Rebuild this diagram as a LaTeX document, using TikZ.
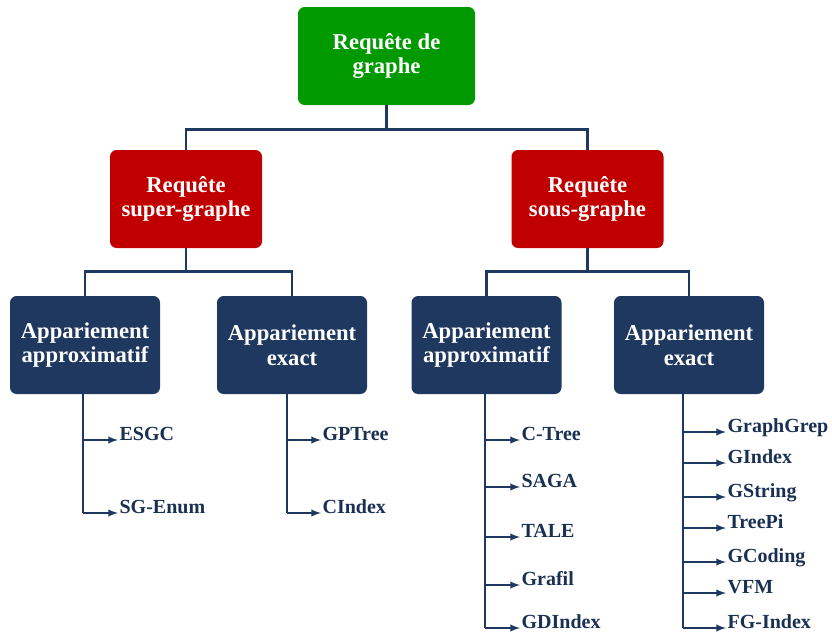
\documentclass[tikz,border=0pt]{standalone}
\usepackage{fontspec}
\setmainfont{Liberation Serif}
\usetikzlibrary{arrows}

\definecolor{navy}{RGB}{31,56,96}
\definecolor{vert}{RGB}{0,153,0}
\definecolor{rouge}{RGB}{192,0,0}

\tikzset{
  boite/.style={rectangle, rounded corners=5pt, text=white, align=center,
    font=\bfseries\fontsize{17}{18.5}\selectfont, inner sep=0pt,
    minimum width=112.5pt, minimum height=73.5pt},
  feuille/.style={anchor=base west, inner sep=1pt, text=navy!85!black,
    font=\bfseries\fontsize{15}{17}\selectfont},
  lien/.style={draw=navy, line width=2.2pt},
  fleche/.style={draw=navy, line width=1.5pt, -latex},
}

\begin{document}
\begin{tikzpicture}[x=0.75pt,y=-0.75pt]
\useasboundingbox (0,0) rectangle (832,637);

% niveau 1
\node[boite, fill=vert, minimum width=132.75pt] (top) at (386.5,56) {Requête de\\graphe};

% niveau 2
\node[boite, fill=rouge, minimum width=114pt] (sup) at (186,199) {Requête\\super-graphe};
\node[boite, fill=rouge, minimum width=114pt] (sous) at (587.5,199) {Requête\\sous-graphe};

% niveau 3
\node[boite, fill=navy] (supApprox) at (85,345) {Appariement\\approximatif};
\node[boite, fill=navy] (supExact) at (292,345) {Appariement\\exact};
\node[boite, fill=navy] (sousApprox) at (486.5,345) {Appariement\\approximatif};
\node[boite, fill=navy] (sousExact) at (689,345) {Appariement\\exact};

\draw[lien] (top.south) -- ++(0,24) -| (sup.north);
\draw[lien] (top.south) -- ++(0,24) -| (sous.north);
\draw[lien] (sup.south) -- ++(0,23) -| (supApprox.north);
\draw[lien] (sup.south) -- ++(0,23) -| (supExact.north);
\draw[lien] (sous.south) -- ++(0,23) -| (sousApprox.north);
\draw[lien] (sous.south) -- ++(0,23) -| (sousExact.north);

% feuilles
\coordinate (lA) at (83,393);
\coordinate (lB) at (287,393);
\coordinate (lC) at (485,393);
\coordinate (lD) at (683,393);

\node[feuille] (esgc) at (118,440) {ESGC};
\node[feuille] (sgenum) at (118,513) {SG-Enum};

\node[feuille] (gptree) at (321,440) {GPTree};
\node[feuille] (cindex) at (321,513) {CIndex};

\node[feuille] (ctree) at (520,440) {C-Tree};
\node[feuille] (saga) at (520,487) {SAGA};
\node[feuille] (tale) at (520,537) {TALE};
\node[feuille] (grafil) at (520,585) {Grafil};
\node[feuille] (gdindex) at (520,628) {GDIndex};

\node[feuille] (graphgrep) at (726,432) {GraphGrep};
\node[feuille] (gindex) at (726,463) {GIndex};
\node[feuille] (gstring) at (726,497) {GString};
\node[feuille] (treepi) at (726,528) {TreePi};
\node[feuille] (gcoding) at (726,562) {GCoding};
\node[feuille] (vfm) at (726,593) {VFM};
\node[feuille] (fgindex) at (726,628) {FG-Index};

\draw[lien] (lA) -- (lA |- sgenum.base west);
\draw[lien] (lB) -- (lB |- cindex.base west);
\draw[lien] (lC) -- (lC |- gdindex.base west);
\draw[lien] (lD) -- (lD |- fgindex.base west);

\draw[fleche] (lA |- esgc.base west) -- (esgc.base west);
\draw[fleche] (lA |- sgenum.base west) -- (sgenum.base west);
\draw[fleche] (lB |- gptree.base west) -- (gptree.base west);
\draw[fleche] (lB |- cindex.base west) -- (cindex.base west);
\draw[fleche] (lC |- ctree.base west) -- (ctree.base west);
\draw[fleche] (lC |- saga.base west) -- (saga.base west);
\draw[fleche] (lC |- tale.base west) -- (tale.base west);
\draw[fleche] (lC |- grafil.base west) -- (grafil.base west);
\draw[fleche] (lC |- gdindex.base west) -- (gdindex.base west);
\draw[fleche] (lD |- graphgrep.base west) -- (graphgrep.base west);
\draw[fleche] (lD |- gindex.base west) -- (gindex.base west);
\draw[fleche] (lD |- gstring.base west) -- (gstring.base west);
\draw[fleche] (lD |- treepi.base west) -- (treepi.base west);
\draw[fleche] (lD |- gcoding.base west) -- (gcoding.base west);
\draw[fleche] (lD |- vfm.base west) -- (vfm.base west);
\draw[fleche] (lD |- fgindex.base west) -- (fgindex.base west);
\end{tikzpicture}
\end{document}
